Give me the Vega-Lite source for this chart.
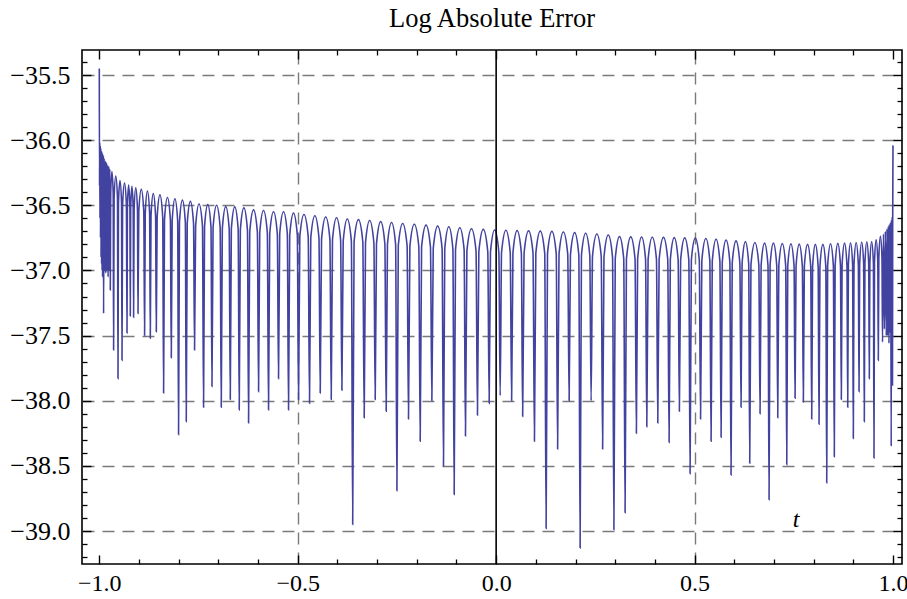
{
"$schema": "https://vega.github.io/schema/vega-lite/v6.json",
"width": 820, "height": 514,
"autosize": {"type": "none"},
"padding": {"left": 82, "top": 50, "right": 5, "bottom": 35},
"background": "white",
"title": {"text": "Log Absolute Error", "font": "Liberation Serif", "fontSize": 26.5, "fontWeight": "normal", "color": "black", "frame": "group", "anchor": "middle", "offset": 22, "dy": 26, "baseline": "alphabetic"},
"config": {"view": {"stroke": "black", "strokeWidth": 1.6}},
"resolve": {"axis": {"x": "independent", "y": "independent"}},
"layer": [
{
"data": {"values": [
{"t":-1,"v":-35.45},{"t":-0.9995,"v":-36.35},{"t":-0.9989,"v":-36.02},{"t":-0.9983,"v":-36.6},{"t":-0.9977,"v":-36.04},{"t":-0.997,"v":-36.75},{"t":-0.9963,"v":-36.06},{"t":-0.9956,"v":-36.9},{"t":-0.9949,"v":-36.08},{"t":-0.9942,"v":-36.95},{"t":-0.9936,"v":-36.09},{"t":-0.993,"v":-37.0},{"t":-0.9924,"v":-36.1},{"t":-0.9917,"v":-37.05},{"t":-0.9911,"v":-36.11},{"t":-0.9905,"v":-37.02},{"t":-0.9899,"v":-36.12},{"t":-0.9892,"v":-37.33},{"t":-0.9878,"v":-36.14},{"t":-0.9864,"v":-37.0},{"t":-0.985,"v":-36.16},{"t":-0.9836,"v":-37.02},{"t":-0.9822,"v":-36.17},{"t":-0.9809,"v":-37.0},{"t":-0.9794,"v":-36.19},{"t":-0.9778,"v":-37.05},{"t":-0.9765,"v":-36.2},{"t":-0.9751,"v":-37.0},{"t":-0.9737,"v":-36.22},{"t":-0.9723,"v":-37.15},
{"t":-0.9713,"v":-36.41},{"t":-0.9682,"v":-36.24},{"t":-0.965,"v":-36.41},{"t":-0.964,"v":-37.61},
{"t":-0.9627,"v":-36.445},{"t":-0.9585,"v":-36.275},{"t":-0.9542,"v":-36.445},{"t":-0.9529,"v":-37.83},
{"t":-0.9517,"v":-36.48},{"t":-0.9479,"v":-36.31},{"t":-0.944,"v":-36.48},{"t":-0.9428,"v":-37.69},
{"t":-0.9413,"v":-36.5},{"t":-0.9365,"v":-36.33},{"t":-0.9317,"v":-36.5},{"t":-0.9302,"v":-37.48},
{"t":-0.9292,"v":-36.515},{"t":-0.9261,"v":-36.345},{"t":-0.9229,"v":-36.515},{"t":-0.9219,"v":-37.35},
{"t":-0.9209,"v":-36.525},{"t":-0.9178,"v":-36.355},{"t":-0.9146,"v":-36.525},{"t":-0.9136,"v":-37.36},
{"t":-0.9123,"v":-36.535},{"t":-0.9081,"v":-36.365},{"t":-0.9038,"v":-36.535},{"t":-0.9025,"v":-37.33},
{"t":-0.9005,"v":-36.548},{"t":-0.8942,"v":-36.378},{"t":-0.8879,"v":-36.548},{"t":-0.8859,"v":-37.5},
{"t":-0.8842,"v":-36.56},{"t":-0.8787,"v":-36.39},{"t":-0.8732,"v":-36.56},{"t":-0.8715,"v":-37.52},
{"t":-0.8697,"v":-36.58},{"t":-0.864,"v":-36.41},{"t":-0.8582,"v":-36.58},{"t":-0.8564,"v":-37.47},
{"t":-0.8542,"v":-36.59},{"t":-0.8472,"v":-36.42},{"t":-0.8402,"v":-36.59},{"t":-0.838,"v":-37.94},
{"t":-0.8357,"v":-36.61},{"t":-0.8283,"v":-36.44},{"t":-0.8209,"v":-36.61},{"t":-0.8186,"v":-37.67},
{"t":-0.8164,"v":-36.62},{"t":-0.8095,"v":-36.45},{"t":-0.8025,"v":-36.62},{"t":-0.8003,"v":-38.26},
{"t":-0.798,"v":-36.63},{"t":-0.7906,"v":-36.46},{"t":-0.7832,"v":-36.63},{"t":-0.7809,"v":-38.16},
{"t":-0.7784,"v":-36.64},{"t":-0.7705,"v":-36.47},{"t":-0.7625,"v":-36.64},{"t":-0.76,"v":-37.61},
{"t":-0.7573,"v":-36.66},{"t":-0.7487,"v":-36.49},{"t":-0.74,"v":-36.66},{"t":-0.7373,"v":-38.05},
{"t":-0.7348,"v":-36.665},{"t":-0.7267,"v":-36.495},{"t":-0.7186,"v":-36.665},{"t":-0.7161,"v":-37.89},
{"t":-0.7133,"v":-36.67},{"t":-0.7044,"v":-36.5},{"t":-0.6955,"v":-36.67},{"t":-0.6927,"v":-38.05},
{"t":-0.69,"v":-36.68},{"t":-0.6814,"v":-36.51},{"t":-0.6727,"v":-36.68},{"t":-0.67,"v":-37.99},
{"t":-0.6673,"v":-36.682},{"t":-0.6587,"v":-36.512},{"t":-0.6501,"v":-36.682},{"t":-0.6474,"v":-38.07},
{"t":-0.6446,"v":-36.69},{"t":-0.6357,"v":-36.52},{"t":-0.6267,"v":-36.69},{"t":-0.6239,"v":-38.17},
{"t":-0.6209,"v":-36.705},{"t":-0.6113,"v":-36.535},{"t":-0.6017,"v":-36.705},{"t":-0.5987,"v":-37.93},
{"t":-0.5957,"v":-36.71},{"t":-0.5862,"v":-36.54},{"t":-0.5766,"v":-36.71},{"t":-0.5736,"v":-38.07},
{"t":-0.5706,"v":-36.72},{"t":-0.561,"v":-36.55},{"t":-0.5514,"v":-36.72},{"t":-0.5484,"v":-37.83},
{"t":-0.5454,"v":-36.72},{"t":-0.5358,"v":-36.55},{"t":-0.5262,"v":-36.72},{"t":-0.5232,"v":-38.07},
{"t":-0.5202,"v":-36.73},{"t":-0.5106,"v":-36.56},{"t":-0.501,"v":-36.73},{"t":-0.498,"v":-37.99},
{"t":-0.4947,"v":-36.74},{"t":-0.4842,"v":-36.57},{"t":-0.4736,"v":-36.74},{"t":-0.4703,"v":-38.02},
{"t":-0.4671,"v":-36.75},{"t":-0.4568,"v":-36.58},{"t":-0.4465,"v":-36.75},{"t":-0.4433,"v":-37.94},
{"t":-0.44,"v":-36.76},{"t":-0.4295,"v":-36.59},{"t":-0.4189,"v":-36.76},{"t":-0.4156,"v":-37.99},
{"t":-0.4124,"v":-36.765},{"t":-0.4022,"v":-36.595},{"t":-0.3919,"v":-36.765},{"t":-0.3887,"v":-37.92},
{"t":-0.3854,"v":-36.775},{"t":-0.3751,"v":-36.605},{"t":-0.3648,"v":-36.775},{"t":-0.3615,"v":-38.95},
{"t":-0.358,"v":-36.78},{"t":-0.347,"v":-36.61},{"t":-0.336,"v":-36.78},{"t":-0.3325,"v":-38.13},
{"t":-0.3292,"v":-36.787},{"t":-0.3187,"v":-36.617},{"t":-0.3081,"v":-36.787},{"t":-0.3048,"v":-37.99},
{"t":-0.3015,"v":-36.795},{"t":-0.291,"v":-36.625},{"t":-0.2804,"v":-36.795},{"t":-0.2771,"v":-38.08},
{"t":-0.2739,"v":-36.8},{"t":-0.2636,"v":-36.632},{"t":-0.2533,"v":-36.8},{"t":-0.2501,"v":-38.69},
{"t":-0.2466,"v":-36.81},{"t":-0.2355,"v":-36.64},{"t":-0.2244,"v":-36.81},{"t":-0.2209,"v":-38.14},
{"t":-0.2174,"v":-36.815},{"t":-0.2062,"v":-36.645},{"t":-0.1949,"v":-36.815},{"t":-0.1914,"v":-38.31},
{"t":-0.1879,"v":-36.82},{"t":-0.1767,"v":-36.652},{"t":-0.1655,"v":-36.82},{"t":-0.162,"v":-38.0},
{"t":-0.1585,"v":-36.83},{"t":-0.1474,"v":-36.66},{"t":-0.1362,"v":-36.83},{"t":-0.1327,"v":-38.5},
{"t":-0.1295,"v":-36.835},{"t":-0.1193,"v":-36.665},{"t":-0.109,"v":-36.835},{"t":-0.1058,"v":-38.72},
{"t":-0.1024,"v":-36.84},{"t":-0.0916,"v":-36.672},{"t":-0.0807,"v":-36.84},{"t":-0.0773,"v":-38.27},
{"t":-0.0737,"v":-36.85},{"t":-0.0622,"v":-36.68},{"t":-0.0507,"v":-36.85},{"t":-0.0471,"v":-38.11},
{"t":-0.0436,"v":-36.855},{"t":-0.0324,"v":-36.685},{"t":-0.0211,"v":-36.855},{"t":-0.0176,"v":-38.02},
{"t":-0.0143,"v":-36.86},{"t":-0.0038,"v":-36.69},{"t":0.0068,"v":-36.86},{"t":0.0101,"v":-37.96},
{"t":0.0136,"v":-36.862},{"t":0.0246,"v":-36.692},{"t":0.0355,"v":-36.862},{"t":0.039,"v":-38.0},
{"t":0.0423,"v":-36.864},{"t":0.0529,"v":-36.694},{"t":0.0635,"v":-36.864},{"t":0.0668,"v":-38.12},
{"t":0.0704,"v":-36.866},{"t":0.0817,"v":-36.696},{"t":0.0929,"v":-36.866},{"t":0.0965,"v":-38.31},
{"t":0.1,"v":-36.868},{"t":0.1112,"v":-36.698},{"t":0.1224,"v":-36.868},{"t":0.1259,"v":-38.98},
{"t":0.1294,"v":-36.87},{"t":0.1404,"v":-36.7},{"t":0.1514,"v":-36.87},{"t":0.1549,"v":-38.37},
{"t":0.1584,"v":-36.875},{"t":0.1694,"v":-36.705},{"t":0.1804,"v":-36.875},{"t":0.1839,"v":-38.0},
{"t":0.1872,"v":-36.88},{"t":0.1978,"v":-36.71},{"t":0.2083,"v":-36.88},{"t":0.2116,"v":-39.13},
{"t":0.2149,"v":-36.885},{"t":0.2255,"v":-36.715},{"t":0.236,"v":-36.885},{"t":0.2393,"v":-38.0},
{"t":0.2428,"v":-36.89},{"t":0.2538,"v":-36.72},{"t":0.2648,"v":-36.89},{"t":0.2683,"v":-38.37},
{"t":0.2717,"v":-36.898},{"t":0.2825,"v":-36.728},{"t":0.2933,"v":-36.898},{"t":0.2967,"v":-38.99},
{"t":0.3001,"v":-36.91},{"t":0.3108,"v":-36.74},{"t":0.3215,"v":-36.91},{"t":0.3249,"v":-38.86},
{"t":0.3283,"v":-36.912},{"t":0.3392,"v":-36.742},{"t":0.35,"v":-36.912},{"t":0.3534,"v":-38.25},
{"t":0.3565,"v":-36.913},{"t":0.3665,"v":-36.743},{"t":0.3765,"v":-36.913},{"t":0.3796,"v":-38.2},
{"t":0.3829,"v":-36.915},{"t":0.3935,"v":-36.745},{"t":0.404,"v":-36.915},{"t":0.4073,"v":-38.17},
{"t":0.4107,"v":-36.916},{"t":0.4216,"v":-36.746},{"t":0.4324,"v":-36.916},{"t":0.4358,"v":-38.32},
{"t":0.4389,"v":-36.918},{"t":0.4488,"v":-36.748},{"t":0.4586,"v":-36.918},{"t":0.4617,"v":-38.08},
{"t":0.4649,"v":-36.92},{"t":0.4752,"v":-36.75},{"t":0.4855,"v":-36.92},{"t":0.4887,"v":-38.56},
{"t":0.4919,"v":-36.922},{"t":0.5019,"v":-36.752},{"t":0.5119,"v":-36.922},{"t":0.5151,"v":-38.14},
{"t":0.5183,"v":-36.925},{"t":0.5284,"v":-36.755},{"t":0.5384,"v":-36.925},{"t":0.5416,"v":-38.31},
{"t":0.5446,"v":-36.93},{"t":0.5542,"v":-36.76},{"t":0.5638,"v":-36.93},{"t":0.5668,"v":-38.28},
{"t":0.5698,"v":-36.936},{"t":0.5794,"v":-36.766},{"t":0.5889,"v":-36.936},{"t":0.5919,"v":-38.57},
{"t":0.5949,"v":-36.943},{"t":0.6045,"v":-36.773},{"t":0.6141,"v":-36.943},{"t":0.6171,"v":-38.05},
{"t":0.6197,"v":-36.949},{"t":0.6281,"v":-36.779},{"t":0.6364,"v":-36.949},{"t":0.639,"v":-38.48},
{"t":0.6421,"v":-36.955},{"t":0.652,"v":-36.785},{"t":0.6619,"v":-36.955},{"t":0.665,"v":-38.1},
{"t":0.6677,"v":-36.96},{"t":0.6764,"v":-36.79},{"t":0.685,"v":-36.96},{"t":0.6877,"v":-38.76},
{"t":0.6903,"v":-36.96},{"t":0.6987,"v":-36.79},{"t":0.707,"v":-36.96},{"t":0.7096,"v":-38.13},
{"t":0.7123,"v":-36.963},{"t":0.721,"v":-36.793},{"t":0.7296,"v":-36.963},{"t":0.7323,"v":-38.49},
{"t":0.7348,"v":-36.965},{"t":0.7428,"v":-36.795},{"t":0.7507,"v":-36.965},{"t":0.7532,"v":-37.98},
{"t":0.7557,"v":-36.968},{"t":0.7637,"v":-36.798},{"t":0.7716,"v":-36.968},{"t":0.7741,"v":-38.01},
{"t":0.7766,"v":-36.97},{"t":0.7847,"v":-36.8},{"t":0.7927,"v":-36.97},{"t":0.7952,"v":-38.14},
{"t":0.7974,"v":-36.97},{"t":0.8044,"v":-36.8},{"t":0.8114,"v":-36.97},{"t":0.8136,"v":-38.18},
{"t":0.8159,"v":-36.97},{"t":0.8233,"v":-36.8},{"t":0.8307,"v":-36.97},{"t":0.833,"v":-38.63},
{"t":0.8353,"v":-36.965},{"t":0.8426,"v":-36.795},{"t":0.8498,"v":-36.965},{"t":0.8521,"v":-38.43},
{"t":0.8542,"v":-36.962},{"t":0.861,"v":-36.792},{"t":0.8677,"v":-36.962},{"t":0.8698,"v":-37.99},
{"t":0.8717,"v":-36.96},{"t":0.8779,"v":-36.79},{"t":0.884,"v":-36.96},{"t":0.8859,"v":-38.05},
{"t":0.8876,"v":-36.957},{"t":0.893,"v":-36.787},{"t":0.8983,"v":-36.957},{"t":0.9,"v":-38.29},
{"t":0.9017,"v":-36.955},{"t":0.9072,"v":-36.785},{"t":0.9127,"v":-36.955},{"t":0.9144,"v":-37.93},
{"t":0.916,"v":-36.952},{"t":0.9211,"v":-36.782},{"t":0.9261,"v":-36.952},{"t":0.9277,"v":-38.16},
{"t":0.9292,"v":-36.95},{"t":0.934,"v":-36.78},{"t":0.9388,"v":-36.95},{"t":0.9403,"v":-37.83},
{"t":0.9417,"v":-36.948},{"t":0.9462,"v":-36.778},{"t":0.9507,"v":-36.948},{"t":0.9521,"v":-38.44},
{"t":0.9534,"v":-36.935},{"t":0.9576,"v":-36.765},{"t":0.9617,"v":-36.935},{"t":0.963,"v":-37.69},
{"t":0.9643,"v":-36.907},{"t":0.9683,"v":-36.737},{"t":0.9723,"v":-36.907},{"t":0.9736,"v":-37.55},
{"t":0.976,"v":-36.72},{"t":0.9785,"v":-37.45},{"t":0.9808,"v":-36.7},{"t":0.9831,"v":-37.5},{"t":0.9849,"v":-36.68},{"t":0.9866,"v":-37.5},{"t":0.9883,"v":-36.66},{"t":0.9899,"v":-37.56},{"t":0.9913,"v":-36.645},{"t":0.9928,"v":-37.48},{"t":0.9942,"v":-36.63},{"t":0.9955,"v":-38.35},{"t":0.9964,"v":-36.61},{"t":0.9972,"v":-37.5},{"t":0.998,"v":-36.59},{"t":0.9987,"v":-37.88},{"t":0.9993,"v":-36.56},{"t":1,"v":-36.04}
]},
"mark": {"type": "line", "interpolate": "monotone", "color": "#4242a0", "strokeWidth": 1.6},
"encoding": {
"x": {"field": "t", "type": "quantitative", "scale": {"domain": [-1.0436, 1.0227], "nice": false, "zero": false},
 "axis": {"orient": "bottom", "values": [-1, -0.5, 0, 0.5, 1], "format": ".1f", "ticks": false, "domain": false, "grid": false, "labelPadding": 7, "labelFont": "Liberation Serif", "labelFontSize": 24, "labelColor": "black", "labelFlush": false, "labelOverlap": false, "title": null}},
"y": {"field": "v", "type": "quantitative", "scale": {"domain": [-39.253, -35.308], "nice": false, "zero": false},
 "axis": {"orient": "left", "values": [-35.5, -36, -36.5, -37, -37.5, -38, -38.5, -39], "format": ".1f", "ticks": false, "domain": false, "grid": true, "gridDash": [12, 8], "gridColor": "#7a7a7a", "gridWidth": 1.4, "labelPadding": 12, "labelFont": "Liberation Serif", "labelFontSize": 26, "labelColor": "black", "labelFlush": false, "labelOverlap": false, "labelBaseline": "middle", "title": null}}
}
},
{
"data": {"values": [{}]},
"mark": {"type": "rule", "color": "black", "strokeWidth": 1.6},
"encoding": {
"x": {"datum": 0, "type": "quantitative", "scale": {"domain": [-1.0436, 1.0227], "nice": false, "zero": false},
 "axis": {"orient": "bottom", "values": [-1, -0.5, 0, 0.5, 1], "labels": false, "domain": false, "grid": false, "ticks": true, "tickSize": -9, "tickColor": "black", "tickWidth": 1.4, "title": null}}
}
},
{
"data": {"values": [{}]},
"mark": {"type": "point", "opacity": 0},
"encoding": {
"x": {"datum": 0, "type": "quantitative", "scale": {"domain": [-1.0436, 1.0227], "nice": false, "zero": false},
 "axis": {"orient": "bottom", "values": [-0.9, -0.8, -0.7, -0.6, -0.4, -0.3, -0.2, -0.1, 0.1, 0.2, 0.3, 0.4, 0.6, 0.7, 0.8, 0.9], "labels": false, "domain": false, "grid": false, "ticks": true, "tickSize": -5, "tickColor": "black", "tickWidth": 1.3, "title": null}},
"y": {"datum": -37, "type": "quantitative", "scale": {"domain": [-39.253, -35.308], "nice": false, "zero": false},
 "axis": {"orient": "left", "values": [-35.5, -36, -36.5, -37, -37.5, -38, -38.5, -39], "labels": false, "domain": false, "grid": false, "ticks": true, "tickSize": -9, "tickColor": "black", "tickWidth": 1.4, "title": null}}
}
},
{
"data": {"values": [{}]},
"mark": {"type": "point", "opacity": 0},
"encoding": {
"x": {"datum": 0, "type": "quantitative", "scale": {"domain": [-1.0436, 1.0227], "nice": false, "zero": false},
 "axis": {"orient": "top", "values": [-1, -0.5, 0, 0.5, 1], "labels": false, "domain": false, "grid": false, "ticks": true, "tickSize": -9, "tickColor": "black", "tickWidth": 1.4, "title": null}},
"y": {"datum": -37, "type": "quantitative", "scale": {"domain": [-39.253, -35.308], "nice": false, "zero": false},
 "axis": {"orient": "left", "values": [-35.4, -35.6, -35.7, -35.8, -35.9, -36.1, -36.2, -36.3, -36.4, -36.6, -36.7, -36.8, -36.9, -37.1, -37.2, -37.3, -37.4, -37.6, -37.7, -37.8, -37.9, -38.1, -38.2, -38.3, -38.4, -38.6, -38.7, -38.8, -38.9, -39.1, -39.2], "labels": false, "domain": false, "grid": false, "ticks": true, "tickSize": -5, "tickColor": "black", "tickWidth": 1.3, "title": null}}
}
},
{
"data": {"values": [{}]},
"mark": {"type": "point", "opacity": 0},
"encoding": {
"x": {"datum": 0, "type": "quantitative", "scale": {"domain": [-1.0436, 1.0227], "nice": false, "zero": false},
 "axis": {"orient": "top", "values": [-0.9, -0.8, -0.7, -0.6, -0.4, -0.3, -0.2, -0.1, 0.1, 0.2, 0.3, 0.4, 0.6, 0.7, 0.8, 0.9], "labels": false, "domain": false, "grid": false, "ticks": true, "tickSize": -5, "tickColor": "black", "tickWidth": 1.3, "title": null}},
"y": {"datum": -37, "type": "quantitative", "scale": {"domain": [-39.253, -35.308], "nice": false, "zero": false},
 "axis": {"orient": "right", "values": [-35.5, -36, -36.5, -37, -37.5, -38, -38.5, -39], "labels": false, "domain": false, "grid": false, "ticks": true, "tickSize": -9, "tickColor": "black", "tickWidth": 1.4, "title": null}}
}
},
{
"data": {"values": [{}]},
"mark": {"type": "point", "opacity": 0},
"encoding": {
"x": {"datum": 0, "type": "quantitative", "scale": {"domain": [-1.0436, 1.0227], "nice": false, "zero": false},
 "axis": {"orient": "top", "values": [-0.5, 0.5], "labels": false, "domain": false, "ticks": false, "grid": true, "gridDash": [12, 8], "gridColor": "#7a7a7a", "gridWidth": 1.4, "title": null}},
"y": {"datum": -37, "type": "quantitative", "scale": {"domain": [-39.253, -35.308], "nice": false, "zero": false},
 "axis": {"orient": "right", "values": [-35.4, -35.6, -35.7, -35.8, -35.9, -36.1, -36.2, -36.3, -36.4, -36.6, -36.7, -36.8, -36.9, -37.1, -37.2, -37.3, -37.4, -37.6, -37.7, -37.8, -37.9, -38.1, -38.2, -38.3, -38.4, -38.6, -38.7, -38.8, -38.9, -39.1, -39.2], "labels": false, "domain": false, "grid": false, "ticks": true, "tickSize": -5, "tickColor": "black", "tickWidth": 1.3, "title": null}}
}
},
{
"data": {"values": [{"label": "t"}]},
"mark": {"type": "text", "font": "Liberation Serif", "fontStyle": "italic", "fontSize": 24, "color": "black", "align": "center", "baseline": "middle"},
"encoding": {
"x": {"datum": 0.756, "type": "quantitative", "scale": {"domain": [-1.0436, 1.0227], "nice": false, "zero": false}, "axis": null},
"y": {"datum": -38.915, "type": "quantitative", "scale": {"domain": [-39.253, -35.308], "nice": false, "zero": false}, "axis": null},
"text": {"field": "label", "type": "nominal"}
}
}
]
}
